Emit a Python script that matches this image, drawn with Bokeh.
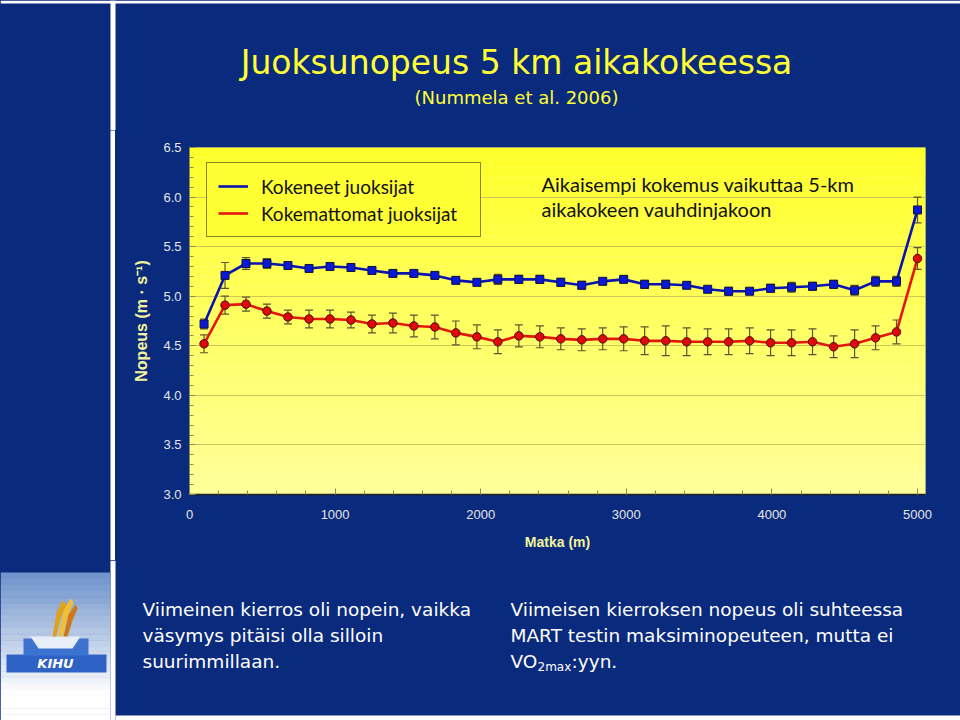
from bokeh.plotting import figure
from bokeh.layouts import column, row
from bokeh.models import (Range1d, ColumnDataSource, Whisker, TeeHead, Label, Legend, LegendItem,
                          BoxAnnotation, FixedTicker, PrintfTickFormatter, PolyAnnotation)
from bokeh.embed import file_html
from bokeh.resources import INLINE

# ---------------- data ----------------
distance_m = [100, 244, 388, 532, 676, 821, 965, 1109, 1253, 1397, 1541, 1685, 1829, 1974,
              2118, 2262, 2406, 2550, 2694, 2838, 2982, 3126, 3271, 3415, 3559, 3703, 3847,
              3991, 4135, 4279, 4424, 4568, 4712, 4856, 5000]
experienced_speed = [4.72, 5.21, 5.33, 5.33, 5.31, 5.28, 5.30, 5.29, 5.26, 5.23, 5.23, 5.21,
                     5.16, 5.14, 5.17, 5.17, 5.17, 5.14, 5.11, 5.15, 5.17, 5.12, 5.12, 5.11,
                     5.07, 5.05, 5.05, 5.08, 5.09, 5.10, 5.12, 5.06, 5.15, 5.15, 5.87]
experienced_sd = [0.05, 0.13, 0.06, 0.05, 0.04, 0.03, 0.03, 0.04, 0.03, 0.03, 0.03, 0.03,
                  0.03, 0.03, 0.05, 0.04, 0.04, 0.04, 0.04, 0.03, 0.03, 0.04, 0.04, 0.03,
                  0.03, 0.04, 0.03, 0.04, 0.05, 0.04, 0.04, 0.05, 0.05, 0.05, 0.13]
novice_speed = [4.52, 4.91, 4.92, 4.85, 4.79, 4.77, 4.77, 4.76, 4.72, 4.73, 4.70, 4.69,
                4.63, 4.59, 4.54, 4.60, 4.59, 4.57, 4.56, 4.57, 4.57, 4.55, 4.55, 4.54,
                4.54, 4.54, 4.55, 4.53, 4.53, 4.54, 4.49, 4.52, 4.58, 4.64, 5.38]
novice_sd = [0.09, 0.09, 0.07, 0.07, 0.07, 0.09, 0.09, 0.08, 0.09, 0.10, 0.11, 0.12,
             0.12, 0.12, 0.12, 0.11, 0.11, 0.11, 0.11, 0.11, 0.12, 0.14, 0.15, 0.14,
             0.13, 0.13, 0.13, 0.13, 0.13, 0.13, 0.11, 0.14, 0.12, 0.12, 0.11]
x_ticks = [0, 1000, 2000, 3000, 4000, 5000]
y_ticks = [3.0, 3.5, 4.0, 4.5, 5.0, 5.5, 6.0, 6.5]
series_names = ["Kokeneet juoksijat", "Kokemattomat juoksijat"]

# ---------------- page geometry ----------------
W, H = 960, 720
TOP_H = 130          # title band height
MID_B = 560          # bottom of the chart band
LEFT_W = 120         # left chrome column in the chart band
FL, FT, FR, FB = 189, 147, 925, 494   # chart frame edges on the page
BG = "#0A2A7D"
TXT_YELLOW = "#FFFF33"


def canvas_fig(x0, x1, y0, y1, color=BG):
    """A plain figure whose data coordinates equal page pixel coordinates."""
    f = figure(width=x1 - x0, height=y1 - y0, x_range=Range1d(x0, x1), y_range=Range1d(y1, y0),
               x_axis_type=None, y_axis_type=None, output_backend="svg", toolbar_location=None,
               min_border=0, outline_line_color=None, background_fill_color=color,
               border_fill_color=color)
    return f


def box(f, x0, y0, x1, y1, color):
    f.add_layout(BoxAnnotation(left=x0, right=x1, top=y0, bottom=y1, fill_color=color,
                               fill_alpha=1.0, line_color=None, level="underlay"))


def label(f, x, y, text, size, color, font="DejaVu Sans", align="left", style="normal"):
    f.add_layout(Label(x=x, y=y, text=text, text_font=font, text_font_size=size,
                       text_color=color, text_align=align, text_baseline="middle",
                       text_font_style=style))


# ---------------- title band ----------------
top = canvas_fig(0, W, 0, TOP_H)
box(top, 0, 0, W, 3, "white")
box(top, 110, 0, 115, TOP_H, "white")
label(top, 516, 62, "Juoksunopeus 5 km aikakokeessa", "33px", TXT_YELLOW, align="center")
label(top, 516, 97, "(Nummela et al. 2006)", "18px", TXT_YELLOW, align="center")

# ---------------- left chrome in chart band (uniform colour blocks) ----------------
left = row(canvas_fig(0, 110, TOP_H, MID_B, BG),
           canvas_fig(110, 115, TOP_H, MID_B, "white"),
           canvas_fig(115, LEFT_W, TOP_H, MID_B, BG), spacing=0)

# ---------------- chart ----------------
p = figure(width=W - LEFT_W, height=MID_B - TOP_H, x_range=Range1d(0, 5055),
           y_range=Range1d(3.0, 6.5), output_backend="svg", toolbar_location=None,
           min_border_left=FL - LEFT_W, min_border_right=W - FR, min_border_top=FT - TOP_H,
           min_border_bottom=MID_B - FB, border_fill_color=BG,
           background_fill_color="#FFFF99", outline_line_color=None)

# vertical yellow gradient of the plot area
n_strips = 35
for i in range(n_strips):
    lo = 3.0 + i * 0.1
    t = (lo + 0.05 - 3.0) / 3.5
    b = int(round(0x9C - t * (0x9C - 0x28)))
    p.add_layout(BoxAnnotation(bottom=lo, top=lo + 0.1, fill_color="#FFFF%02X" % b,
                               fill_alpha=1.0, line_color=None, level="image"))

p.xgrid.visible = False
p.ygrid.ticker = FixedTicker(ticks=y_ticks)
p.ygrid.grid_line_color = "#CFC65A"
p.ygrid.grid_line_width = 1.2

p.yaxis.ticker = FixedTicker(ticks=y_ticks, minor_ticks=[round(3.0 + 0.1 * k, 1) for k in range(36)])
p.yaxis.formatter = PrintfTickFormatter(format="%.1f")
p.xaxis.ticker = FixedTicker(ticks=x_ticks, minor_ticks=list(range(0, 5001, 200)))

for ax in (p.xaxis[0], p.yaxis[0]):
    ax.major_tick_in = 6
    ax.major_tick_out = 0
    ax.minor_tick_in = 4
    ax.minor_tick_out = 0
    ax.major_tick_line_color = "#8C8A50"
    ax.minor_tick_line_color = "#8C8A50"
    ax.major_label_text_color = "#E6E6E6"
    ax.major_label_text_font = "Liberation Sans"
    ax.major_label_text_font_size = "13px"
    ax.axis_label_text_color = "#F4F49C"
    ax.axis_label_text_font = "Liberation Sans"
    ax.axis_label_text_font_style = "bold"

p.xaxis.axis_line_color = "#222222"
p.xaxis.axis_line_width = 1.5
p.yaxis.axis_line_color = "#8C8A50"
p.xaxis.major_label_standoff = 15
p.yaxis.major_label_standoff = 8
p.xaxis.axis_label = "Matka (m)"
p.xaxis.axis_label_text_font_size = "14px"
p.xaxis.axis_label_standoff = 12
p.yaxis.axis_label = "Nopeus (m · s⁻¹)"
p.yaxis.axis_label_text_font_size = "16px"
p.yaxis.axis_label_standoff = 10

src_b = ColumnDataSource(dict(
    x=distance_m, y=experienced_speed,
    upper=[v + e for v, e in zip(experienced_speed, experienced_sd)],
    lower=[v - e for v, e in zip(experienced_speed, experienced_sd)]))
src_r = ColumnDataSource(dict(
    x=distance_m, y=novice_speed,
    upper=[v + e for v, e in zip(novice_speed, novice_sd)],
    lower=[v - e for v, e in zip(novice_speed, novice_sd)]))

ERR = "#5A5530"
for src in (src_r, src_b):
    p.add_layout(Whisker(source=src, base="x", upper="upper", lower="lower",
                         line_color=ERR, line_width=1.2, level="underlay",
                         upper_head=TeeHead(size=8, line_color=ERR, line_width=1.2),
                         lower_head=TeeHead(size=8, line_color=ERR, line_width=1.2)))

red_line = p.line("x", "y", source=src_r, line_color="#E5160C", line_width=2.6)
p.scatter("x", "y", source=src_r, marker="circle", size=8.5,
          fill_color="#E00808", line_color="#4A1010", line_width=1)
blue_line = p.line("x", "y", source=src_b, line_color="#0A14B0", line_width=2.6)
p.scatter("x", "y", source=src_b, marker="square", size=8,
          fill_color="#0A18D8", line_color="#101040", line_width=1)

legend = Legend(items=[LegendItem(label=series_names[0], renderers=[blue_line]),
                       LegendItem(label=series_names[1], renderers=[red_line])],
                location=(206 - FL, FB - 237), orientation="vertical",
                background_fill_color="#FFFF33", background_fill_alpha=1.0,
                border_line_color="#111111", border_line_width=1.5,
                label_text_font="Lato", label_text_font_size="19px",
                label_text_color="#111111", glyph_width=30, glyph_height=24,
                label_height=24, label_width=208, label_standoff=13,
                padding=11, spacing=3, margin=0)
p.add_layout(legend, "center")

p.add_layout(Label(x=541 - FL, y=FB - 183, x_units="screen", y_units="screen",
                   text="Aikaisempi kokemus vaikuttaa 5-km", text_font="Lato",
                   text_font_size="20px", text_color="#111111", text_baseline="middle"))
p.add_layout(Label(x=541 - FL, y=FB - 208, x_units="screen", y_units="screen",
                   text="aikakokeen vauhdinjakoon", text_font="Lato",
                   text_font_size="20px", text_color="#111111", text_baseline="middle"))

# ---------------- bottom band ----------------
bot = canvas_fig(0, W, MID_B, H)
box(bot, 110, MID_B, 115, H, "white")
box(bot, 115, 715, W, H, "white")
n_logo = 24
y_start = 572
step = (H - y_start) / n_logo
for i in range(n_logo):
    y0 = y_start + i * step
    t = min(1.0, i / (n_logo * 0.8))
    r = int(0x70 + t * (0xFF - 0x70))
    g = int(0x94 + t * (0xFF - 0x94))
    b = int(0xCC + t * (0xFF - 0xCC))
    box(bot, 0, y0, 110, y0 + step + 0.5, "#%02X%02X%02X" % (r, g, b))


def poly(f, xs, ys, color):
    f.add_layout(PolyAnnotation(xs=xs, ys=ys, fill_color=color, fill_alpha=1.0,
                                line_color=None, level="underlay"))


# KIHU logo (simplified)
poly(bot, [6, 106, 106, 6], [654, 654, 672, 672], "#2E62C4")
poly(bot, [23, 88, 88, 23], [638, 638, 655, 655], "#3C72D0")
poly(bot, [30, 80, 72, 38], [636, 636, 648, 648], "#E8EEF8")
poly(bot, [52, 56, 62, 66, 60, 56], [636, 612, 600, 604, 618, 636], "#E0A020")
poly(bot, [58, 63, 70, 73, 67, 62], [636, 610, 598, 602, 616, 636], "#F0C030")
poly(bot, [63, 68, 75, 77, 72, 67], [636, 614, 604, 608, 620, 636], "#D07818")
label(bot, 55, 663, "KIHU", "13px", "white", align="center", style="bold italic")

label(bot, 142, 609, "Viimeinen kierros oli nopein, vaikka", "18.5px", "white")
label(bot, 142, 635, "väsymys pitäisi olla silloin", "18.5px", "white")
label(bot, 142, 661, "suurimmillaan.", "18.5px", "white")
label(bot, 510, 609, "Viimeisen kierroksen nopeus oli suhteessa", "18.5px", "white")
label(bot, 510, 635, "MART testin maksiminopeuteen, mutta ei", "18.5px", "white")
label(bot, 510, 661, "VO", "18.5px", "white")
label(bot, 537, 666, "2max", "12px", "white")
label(bot, 571, 661, ":yyn.", "18.5px", "white")

page = column(top, row(left, p, spacing=0), bot, spacing=0,
              styles={"background-color": BG})
html = file_html(page, INLINE)
html = html.replace("<body>", '<body style="margin:0; background-color:%s;">' % BG, 1)
open("out.html", "w").write(html)
